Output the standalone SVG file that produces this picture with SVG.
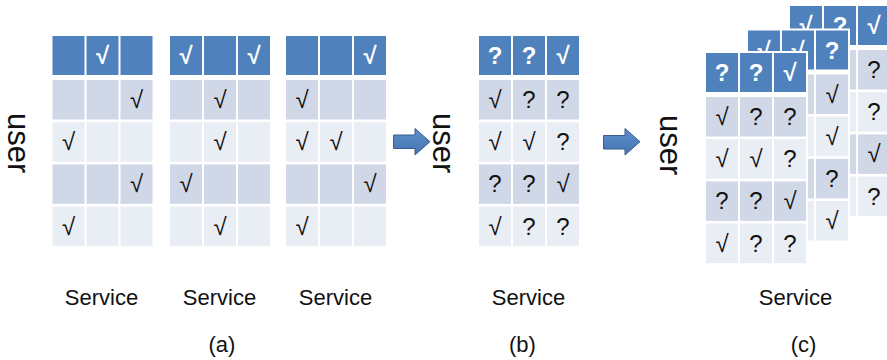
<svg xmlns="http://www.w3.org/2000/svg" width="887" height="360" viewBox="0 0 887 360">
<style>
.bg{fill:#ffffff}
.h{fill:#4F81BD}
.r1{fill:#D0D8E8}
.r2{fill:#E9EDF4}
.ht{font-family:"Liberation Sans",Arial,sans-serif;font-size:24px;font-weight:bold;fill:#ffffff;text-anchor:middle}
.ct{font-family:"Liberation Sans",Arial,sans-serif;font-size:24px;fill:#111111;text-anchor:middle}
.lbl{font-family:"Liberation Sans",Arial,sans-serif;font-size:22px;fill:#111111;text-anchor:middle}
.usr{font-family:"Liberation Sans",Arial,sans-serif;font-size:31px;fill:#111111}
.arr{fill:url(#ag);stroke:#3A5F8C;stroke-width:1}
</style>
<defs>
<linearGradient id="ag" x1="0" y1="0" x2="0" y2="1">
<stop offset="0" stop-color="#5E8FCC"/>
<stop offset="1" stop-color="#4575B0"/>
</linearGradient>
<g id="grid">
<rect class="bg" x="-2" y="-2" width="104" height="209"/>
<rect class="h" x="0" y="0" width="32" height="39"/>
<rect class="h" x="34" y="0" width="32" height="39"/>
<rect class="h" x="68" y="0" width="32" height="39"/>
<rect class="r1" x="0" y="44" width="32" height="39.5"/>
<rect class="r1" x="34" y="44" width="32" height="39.5"/>
<rect class="r1" x="68" y="44" width="32" height="39.5"/>
<rect class="r2" x="0" y="86.2" width="32" height="39.5"/>
<rect class="r2" x="34" y="86.2" width="32" height="39.5"/>
<rect class="r2" x="68" y="86.2" width="32" height="39.5"/>
<rect class="r1" x="0" y="128.4" width="32" height="39.5"/>
<rect class="r1" x="34" y="128.4" width="32" height="39.5"/>
<rect class="r1" x="68" y="128.4" width="32" height="39.5"/>
<rect class="r2" x="0" y="170.6" width="32" height="39.5"/>
<rect class="r2" x="34" y="170.6" width="32" height="39.5"/>
<rect class="r2" x="68" y="170.6" width="32" height="39.5"/>
</g>
</defs>

<g id="table-a1" transform="translate(52.5,36)">
<use href="#grid"/>
<text class="ht" x="50" y="28">√</text>
<text class="ct" x="84" y="72">√</text>
<text class="ct" x="16" y="114.2">√</text>
<text class="ct" x="84" y="156.4">√</text>
<text class="ct" x="16" y="198.6">√</text>
</g>

<g id="table-a2" transform="translate(170,36)">
<use href="#grid"/>
<text class="ht" x="16" y="28">√</text>
<text class="ht" x="84" y="28">√</text>
<text class="ct" x="50" y="72">√</text>
<text class="ct" x="50" y="114.2">√</text>
<text class="ct" x="16" y="156.4">√</text>
<text class="ct" x="50" y="198.6">√</text>
</g>

<g id="table-a3" transform="translate(286,36)">
<use href="#grid"/>
<text class="ht" x="84" y="28">√</text>
<text class="ct" x="16" y="72">√</text>
<text class="ct" x="16" y="114.2">√</text>
<text class="ct" x="50" y="114.2">√</text>
<text class="ct" x="84" y="156.4">√</text>
<text class="ct" x="16" y="198.6">√</text>
</g>

<g id="table-b" transform="translate(479,36)">
<use href="#grid"/>
<text class="ht" x="16" y="28">?</text>
<text class="ht" x="50" y="28">?</text>
<text class="ht" x="84" y="28">√</text>
<text class="ct" x="16" y="72">√</text>
<text class="ct" x="50" y="72">?</text>
<text class="ct" x="84" y="72">?</text>
<text class="ct" x="16" y="114.2">√</text>
<text class="ct" x="50" y="114.2">√</text>
<text class="ct" x="84" y="114.2">?</text>
<text class="ct" x="16" y="156.4">?</text>
<text class="ct" x="50" y="156.4">?</text>
<text class="ct" x="84" y="156.4">√</text>
<text class="ct" x="16" y="198.6">√</text>
<text class="ct" x="50" y="198.6">?</text>
<text class="ct" x="84" y="198.6">?</text>
</g>

<g id="table-c-back" transform="translate(790,6)">
<use href="#grid"/>
<text class="ht" x="16" y="28">√</text>
<text class="ht" x="50" y="28">?</text>
<text class="ht" x="84" y="28">√</text>
<text class="ct" x="84" y="72">?</text>
<text class="ct" x="84" y="114.2">?</text>
<text class="ct" x="84" y="156.4">√</text>
<text class="ct" x="84" y="198.6">?</text>
</g>

<g id="table-c-middle" transform="translate(748,30.5)">
<use href="#grid"/>
<text class="ht" x="16" y="28">√</text>
<text class="ht" x="50" y="28">√</text>
<text class="ht" x="84" y="28">?</text>
<text class="ct" x="84" y="72">√</text>
<text class="ct" x="84" y="114.2">√</text>
<text class="ct" x="84" y="156.4">?</text>
<text class="ct" x="84" y="198.6">√</text>
</g>

<g id="table-c-front" transform="translate(706,53)">
<use href="#grid"/>
<text class="ht" x="16" y="28">?</text>
<text class="ht" x="50" y="28">?</text>
<text class="ht" x="84" y="28">√</text>
<text class="ct" x="16" y="72">√</text>
<text class="ct" x="50" y="72">?</text>
<text class="ct" x="84" y="72">?</text>
<text class="ct" x="16" y="114.2">√</text>
<text class="ct" x="50" y="114.2">√</text>
<text class="ct" x="84" y="114.2">?</text>
<text class="ct" x="16" y="156.4">?</text>
<text class="ct" x="50" y="156.4">?</text>
<text class="ct" x="84" y="156.4">√</text>
<text class="ct" x="16" y="198.6">√</text>
<text class="ct" x="50" y="198.6">?</text>
<text class="ct" x="84" y="198.6">?</text>
</g>

<g id="labels">
<text class="usr" transform="translate(8,113) rotate(90)">user</text>
<text class="usr" transform="translate(433,113) rotate(90)">user</text>
<text class="usr" transform="translate(660,115) rotate(90)">user</text>
<text class="lbl" x="101.5" y="305">Service</text>
<text class="lbl" x="219.5" y="305">Service</text>
<text class="lbl" x="335.5" y="305">Service</text>
<text class="lbl" x="528.5" y="305">Service</text>
<text class="lbl" x="795.5" y="305">Service</text>
<text class="lbl" x="222" y="352">(a)</text>
<text class="lbl" x="522.5" y="352">(b)</text>
<text class="lbl" x="803.5" y="352">(c)</text>
</g>

<g id="connectors">
<path class="arr" d="M393.5,135 L415,135 L415,128.5 L430,141.7 L415,155 L415,148.5 L393.5,148.5 Z"/>
<path class="arr" d="M603.5,135.5 L625,135.5 L625,128.5 L640,141.7 L625,155 L625,149 L603.5,149 Z"/>
</g>
</svg>
